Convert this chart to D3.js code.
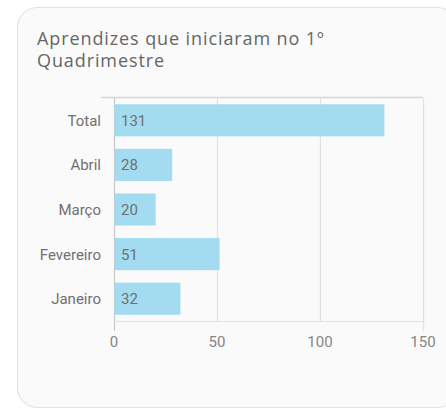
<!DOCTYPE html>
<html>
<head>
<meta charset="utf-8">
<script src="https://cdn.jsdelivr.net/npm/d3@7"></script>
<style>
  body { margin: 0; background: #fff; }
</style>
</head>
<body>
<svg id="chart" width="446" height="410"></svg>
<script>
// Chart data
var categories = ["Total", "Abril", "Março", "Fevereiro", "Janeiro"];
var values = [131, 28, 20, 51, 32];
var xTicks = [0, 50, 100, 150];
var titleLines = ["Aprendizes que iniciaram no 1º", "Quadrimestre"];

var svg = d3.select('#chart');
var labelFont = 'Roboto, Arial, sans-serif';

// Card
svg.append('rect')
    .attr('x', 17.5)
    .attr('y', 7.5)
    .attr('width', 440)
    .attr('height', 400)
    .attr('rx', 20)
    .style('fill', '#fafafa')
    .style('stroke', '#e3e3e3')
    .style('stroke-width', 1.2);

// Title
svg.append('text')
    .attr('x', 37)
    .attr('y', 45)
    .style('font-family', '"Open Sans", sans-serif')
    .style('font-size', '18px')
    .style('letter-spacing', '0.9px')
    .style('fill', '#666')
    .selectAll('tspan')
    .data(titleLines)
    .enter()
  .append('tspan')
    .attr('x', 37)
    .attr('dy', function (d, i) { return i ? 22 : 0; })
    .text(function (d) { return d; });

var plotLeft = 114, plotRight = 423, plotTop = 98, plotBottom = 321;

var x = d3.scaleLinear().domain([0, 150]).range([plotLeft, plotRight]);
var y = d3.scaleBand().domain(categories).range([plotTop, plotBottom]).paddingInner(0.28).paddingOuter(0.14);

var g = svg.append('g');

// Gridlines
g.selectAll('line.grid')
    .data(xTicks)
    .enter()
  .append('line')
    .attr('class', 'grid')
    .attr('x1', function (d) { return Math.round(x(d)) + 0.5; })
    .attr('x2', function (d) { return Math.round(x(d)) + 0.5; })
    .attr('y1', plotTop)
    .attr('y2', function (d, i) { return (i === 0 || i === xTicks.length - 1) ? plotBottom + 10 : plotBottom; })
    .style('stroke', function (d, i) { return i === 0 ? '#c8c8c8' : '#e2e2e2'; })
    .style('stroke-width', 1.2);

// top and bottom lines
g.append('line')
    .attr('x1', 101).attr('x2', plotRight)
    .attr('y1', plotTop - 0.5).attr('y2', plotTop - 0.5)
    .style('stroke', '#d6d6d6').style('stroke-width', 1.5);
g.append('line')
    .attr('x1', plotLeft).attr('x2', plotRight)
    .attr('y1', plotBottom + 0.5).attr('y2', plotBottom + 0.5)
    .style('stroke', '#e2e2e2').style('stroke-width', 1.2);

// Bars
g.selectAll('rect.bar')
    .data(values)
    .enter()
  .append('rect')
    .attr('class', 'bar')
    .attr('x', x(0) + 0.5)
    .attr('y', function (d, i) { return y(categories[i]); })
    .attr('width', function (d) { return x(d) - x(0); })
    .attr('height', y.bandwidth())
    .style('fill', '#a3dcf0');

// Value labels
g.selectAll('text.val')
    .data(values)
    .enter()
  .append('text')
    .attr('class', 'val')
    .attr('x', x(0) + 7)
    .attr('y', function (d, i) { return y(categories[i]) + y.bandwidth() / 2; })
    .attr('dy', '0.36em')
    .style('font-family', labelFont)
    .style('font-size', '15px')
    .style('fill', '#707070')
    .text(function (d) { return d; });

// Category labels
g.selectAll('text.cat')
    .data(categories)
    .enter()
  .append('text')
    .attr('class', 'cat')
    .attr('x', 101)
    .attr('y', function (d) { return y(d) + y.bandwidth() / 2; })
    .attr('dy', '0.36em')
    .attr('text-anchor', 'end')
    .style('font-family', labelFont)
    .style('font-size', '15px')
    .style('fill', '#707070')
    .text(function (d) { return d; });

// X tick labels
g.selectAll('text.tick')
    .data(xTicks)
    .enter()
  .append('text')
    .attr('class', 'tick')
    .attr('x', function (d) { return x(d); })
    .attr('y', 347)
    .attr('text-anchor', 'middle')
    .style('font-family', labelFont)
    .style('font-size', '15px')
    .style('fill', '#858585')
    .text(function (d) { return d; });
</script>
</body>
</html>
